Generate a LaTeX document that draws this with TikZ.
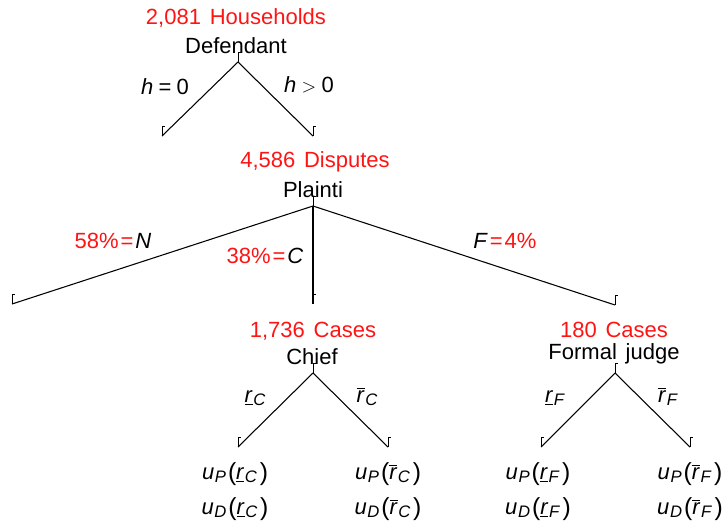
\documentclass[tikz,border=0pt]{standalone}
\usepackage{fontspec}
\setmainfont{Liberation Sans}
\usepackage{xcolor}
\usepackage{tikz}
\usetikzlibrary{positioning}
\definecolor{countred}{RGB}{255,20,20}
\newcommand{\treefont}{\fontsize{16.5}{19}\selectfont\spaceskip=0.4em\relax}
\newcommand{\ul}[1]{\underline{\textit{#1}}}
\newcommand{\ol}[1]{$\overline{\hbox{\textit{#1}}}$}
\newcommand{\sub}[1]{\raisebox{-0.28ex}{\fontsize{12.5}{14}\selectfont\kern0.5pt\textit{#1}}}
\newcommand{\paren}[1]{{\fontsize{18.5}{20}\selectfont\raisebox{-0.08ex}{#1}}}
\newcommand{\payoff}[3]{\textit{u}\sub{#1}\kern1.5pt\paren{(}#2\sub{#3}\kern2pt\paren{)}}
\tikzset{
  treetext/.style={
    font=\treefont,
    inner sep=0pt,
    anchor=base
  },
  counttext/.style={
    treetext,
    text=countred
  },
  treeedge/.style={
    draw=black,
    line width=0.8pt
  },
  treemark/.style={
    draw=black,
    line width=0.6pt
  }
}
\newcommand{\marknode}[1]{\draw[treemark] (#1) -- ++(0,-10) -- ++(3,0);}

\begin{document}
\begin{tikzpicture}[x=0.75pt,y=-0.75pt]
\useasboundingbox (0,0) rectangle (725,521);
% tree points
\coordinate (defendant) at (238,62);
\coordinate (dzero) at (162,136);
\coordinate (dplus) at (313,136);
\coordinate (plaintiff) at (313,206);
\coordinate (pnone) at (12,304);
\coordinate (pchief) at (313,304);
\coordinate (pformal) at (615,305);
\coordinate (chief) at (313,373);
\coordinate (clow) at (238,447);
\coordinate (chigh) at (388,447);
\coordinate (formal) at (615,373);
\coordinate (flow) at (541,447);
\coordinate (fhigh) at (690,447);

% players and counts
\node[counttext] (households) at (236,25) {2,081 Households};
\node[treetext] (deflabel) at (236,53) {Defendant};
\node[counttext] (disputes) at (315,167) {4,586 Disputes};
\node[treetext] (plabel) at (313,197) {Plainti};
\node[counttext] (chiefcases) at (313,337) {1,736 Cases};
\node[treetext] (clabel) at (312,364) {Chief};
\node[counttext] (formalcases) at (614,337) {180 Cases};
\node[treetext] (flabel) at (614,359) {Formal judge};

% edges
\draw[treeedge] (defendant) -- (dzero);
\draw[treeedge] (defendant) -- (dplus);
\draw[treeedge] (plaintiff) -- (pnone);
\draw[treeedge] (plaintiff) -- (pchief);
\draw[treeedge] (plaintiff) -- (pformal);
\draw[treeedge] (chief) -- (clow);
\draw[treeedge] (chief) -- (chigh);
\draw[treeedge] (formal) -- (flow);
\draw[treeedge] (formal) -- (fhigh);

\foreach \p in {defendant,dzero,dplus,plaintiff,pnone,pchief,pformal,chief,clow,chigh,formal,flow,fhigh}
  \marknode{\p};

% edge labels
\node[treetext] (hzero) at (165,94) {\textit{h}\kern4pt=\kern4pt0};
\node[treetext] (hplus) at (309,92) {\textit{h}\kern4pt{\fontsize{14}{16}\selectfont$>$}\kern4pt0};
\node[treetext] (nshare) at (113,248) {\textcolor{countred}{58\%\kern1.5pt=\kern1.5pt}\textit{N}};
\node[treetext] (cshare) at (265,263) {\textcolor{countred}{38\%\kern1.5pt=\kern1.5pt}\textit{C}};
\node[treetext] (fshare) at (505,248) {\textit{F}\textcolor{countred}{\kern1.5pt=\kern1.5pt4\%}};
\node[treetext] (clowlab) at (255,402) {\ul{r}\sub{C}};
\node[treetext] (chighlab) at (367,402) {\ol{r}\sub{C}};
\node[treetext] (flowlab) at (555,402) {\ul{r}\sub{F}};
\node[treetext] (fhighlab) at (668,402) {\ol{r}\sub{F}};

% payoffs
\node[treetext] (cplow) at (235,479) {\payoff{P}{\ul{r}}{C}};
\node[treetext] (cdlow) at (235,514) {\payoff{D}{\ul{r}}{C}};
\node[treetext] (cphigh) at (388,479) {\payoff{P}{\ol{r}}{C}};
\node[treetext] (cdhigh) at (388,514) {\payoff{D}{\ol{r}}{C}};
\node[treetext] (fplow) at (538,479) {\payoff{P}{\ul{r}}{F}};
\node[treetext] (fdlow) at (538,514) {\payoff{D}{\ul{r}}{F}};
\node[treetext] (fphigh) at (690,479) {\payoff{P}{\ol{r}}{F}};
\node[treetext] (fdhigh) at (690,514) {\payoff{D}{\ol{r}}{F}};
\end{tikzpicture}
\end{document}
